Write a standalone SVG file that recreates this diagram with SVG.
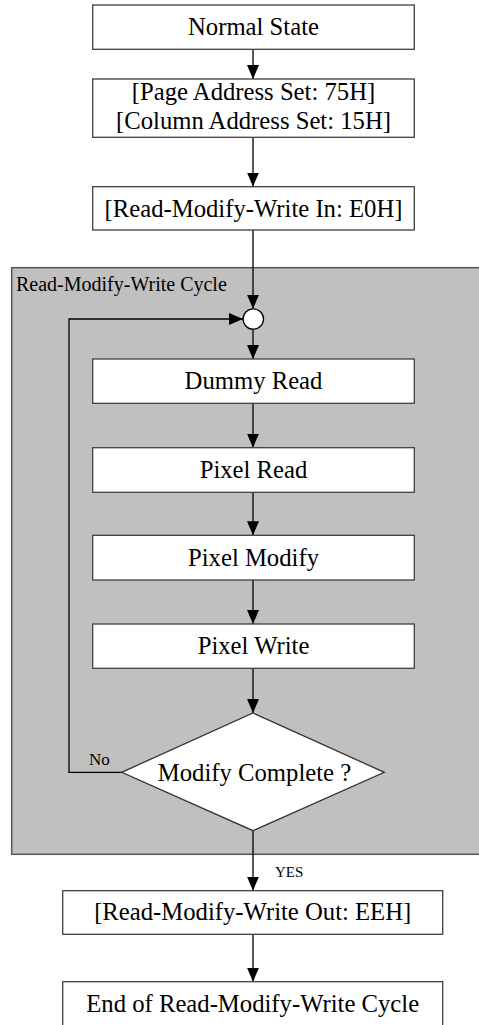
<svg xmlns="http://www.w3.org/2000/svg" width="479" height="1025" viewBox="0 0 479 1025">
<style>
.box{fill:#fff;stroke:#404040;stroke-width:1.3}
.t{font-family:"Liberation Serif","Times New Roman",serif;font-size:24.7px;fill:#000;text-anchor:middle}
.s{font-family:"Liberation Serif","Times New Roman",serif;fill:#000}
.ln{fill:none;stroke:#000;stroke-width:1.3}
</style>
<defs>
<marker id="ah" markerWidth="14" markerHeight="12" refX="14" refY="6" orient="auto" markerUnits="userSpaceOnUse" viewBox="0 0 14 12">
<path d="M0,0 L14,6 L0,12 Z" fill="#000"/>
</marker>
</defs>
<rect width="479" height="1025" fill="#fff"/>
<g id="cycle">
<rect x="11.7" y="267.7" width="470" height="586.6" fill="#c0c0c0" stroke="#555" stroke-width="1.5"/>
<text class="s" x="16" y="291" font-size="20">Read-Modify-Write Cycle</text>
</g>
<g id="connectors">
<line class="ln" x1="253" y1="49.5" x2="253" y2="79" marker-end="url(#ah)"/>
<line class="ln" x1="253" y1="137.5" x2="253" y2="186.5" marker-end="url(#ah)"/>
<line class="ln" x1="253" y1="230" x2="253" y2="308.8" marker-end="url(#ah)"/>
<line class="ln" x1="253" y1="329.2" x2="253" y2="359" marker-end="url(#ah)"/>
<line class="ln" x1="253" y1="403.5" x2="253" y2="447.7" marker-end="url(#ah)"/>
<line class="ln" x1="253" y1="492.5" x2="253" y2="535.3" marker-end="url(#ah)"/>
<line class="ln" x1="253" y1="580" x2="253" y2="624" marker-end="url(#ah)"/>
<line class="ln" x1="253" y1="668.5" x2="253" y2="713" marker-end="url(#ah)"/>
<polyline class="ln" points="122,772.3 69,772.3 69,319 243,319" marker-end="url(#ah)"/>
<line class="ln" x1="253" y1="831" x2="253" y2="890.7" marker-end="url(#ah)"/>
<line class="ln" x1="253" y1="934.5" x2="253" y2="981.7" marker-end="url(#ah)"/>
<text class="s" x="89" y="765" font-size="17">No</text>
<text class="s" x="275" y="877" font-size="15">YES</text>
</g>
<g id="normal">
<rect class="box" x="92.7" y="5" width="321.6" height="44.3"/>
<text class="t" x="253.5" y="35">Normal State</text>
</g>
<g id="address">
<rect class="box" x="92.7" y="79" width="321.6" height="58.3"/>
<text class="t" x="253.5" y="99.5">[Page Address Set: 75H]</text>
<text class="t" x="253.5" y="128.5">[Column Address Set: 15H]</text>
</g>
<g id="rmwin">
<rect class="box" x="92.7" y="186.7" width="321.6" height="43.3"/>
<text class="t" x="253.5" y="216.5">[Read-Modify-Write In: E0H]</text>
</g>
<g id="join">
<circle cx="253.3" cy="319" r="10.2" fill="#fff" stroke="#000" stroke-width="1.3"/>
</g>
<g id="dummy">
<rect class="box" x="92.7" y="359" width="321.6" height="44.3"/>
<text class="t" x="253.5" y="389">Dummy Read</text>
</g>
<g id="pread">
<rect class="box" x="92.7" y="447.7" width="321.6" height="44.6"/>
<text class="t" x="253.5" y="478">Pixel Read</text>
</g>
<g id="pmodify">
<rect class="box" x="92.7" y="535.3" width="321.6" height="44.7"/>
<text class="t" x="253.5" y="565.5">Pixel Modify</text>
</g>
<g id="pwrite">
<rect class="box" x="92.7" y="624" width="321.6" height="44.3"/>
<text class="t" x="253.5" y="654">Pixel Write</text>
</g>
<g id="decision">
<polygon points="253,713 384.3,772.3 253,830.7 121.7,772.3" fill="#fff" stroke="#333" stroke-width="1.3"/>
<text class="t" x="254.5" y="781">Modify Complete ?</text>
</g>
<g id="rmwout">
<rect class="box" x="62.7" y="890.7" width="380" height="43.6"/>
<text class="t" x="252.7" y="920">[Read-Modify-Write Out: EEH]</text>
</g>
<g id="end">
<rect class="box" x="62.7" y="981.7" width="380" height="60"/>
<text class="t" x="252.7" y="1012">End of Read-Modify-Write Cycle</text>
</g>
</svg>
